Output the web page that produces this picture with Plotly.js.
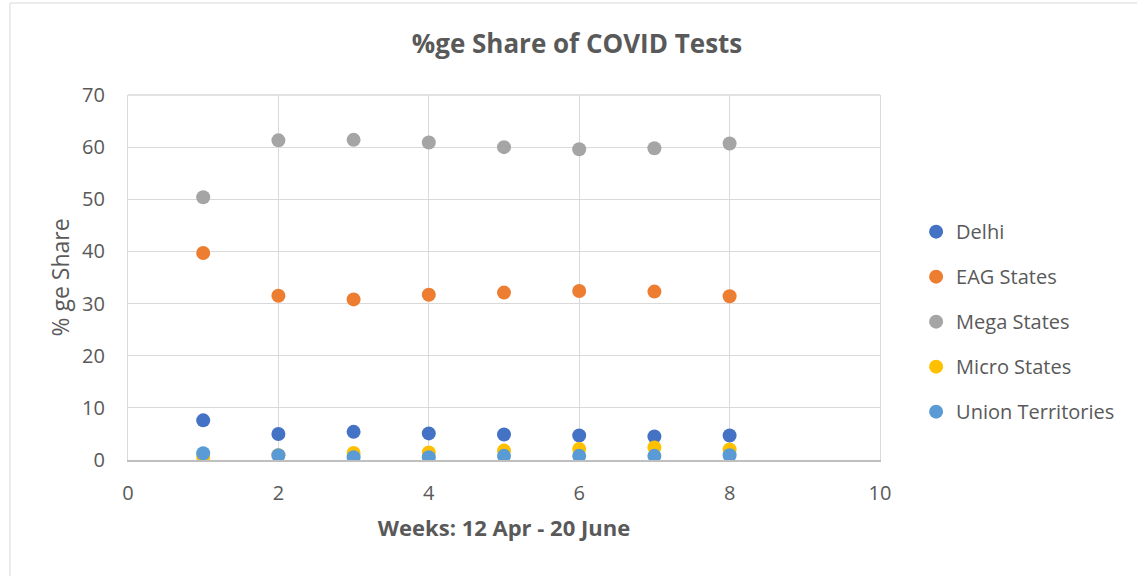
<!DOCTYPE html>
<html>
<head>
<meta charset="utf-8">
<script src="https://cdn.plot.ly/plotly-3.0.1.min.js"></script>
<style>html,body{margin:0;padding:0;background:#fff;}#chart{width:1137px;height:576px;}</style>
</head>
<body>
<div id="chart"></div>
<script>
const weeks = [1, 2, 3, 4, 5, 6, 7, 8];
const delhi = [7.6, 5.0, 5.4, 5.1, 4.9, 4.7, 4.5, 4.7];
const eagStates = [39.7, 31.5, 30.8, 31.7, 32.1, 32.4, 32.3, 31.4];
const megaStates = [50.4, 61.3, 61.4, 60.9, 60.0, 59.6, 59.8, 60.7];
const microStates = [0.6, 0.9, 1.35, 1.45, 1.8, 2.1, 2.4, 2.0];
const unionTerritories = [1.3, 0.9, 0.55, 0.55, 0.8, 0.8, 0.8, 0.9];
const seriesNames = ["Delhi", "EAG States", "Mega States", "Micro States", "Union Territories"];
const seriesValues = [delhi, eagStates, megaStates, microStates, unionTerritories];
const seriesColors = ["#4472C4", "#ED7D31", "#A5A5A5", "#FFC000", "#5B9BD5"];

const font = "'Open Sans', 'Liberation Sans', sans-serif";
const traces = seriesNames.map((n, i) => ({
  x: weeks, y: seriesValues[i], name: n, type: "scatter", mode: "markers",
  legendgroup: n,
  marker: {color: seriesColors[i], size: 14}
}));

const layout = {
  width: 1137, height: 576,
  margin: {l: 128, r: 257, t: 95, b: 116},
  paper_bgcolor: "#fff", plot_bgcolor: "#fff",
  title: {text: "<b>%ge Share of COVID Tests</b>", x: 0.5075, xref: "container", xanchor: "center",
    y: 0.9236, yref: "container", yanchor: "middle",
    font: {family: font, size: 26, color: "#595959"}},
  font: {family: font, color: "#595959"},
  xaxis: {range: [0, 10], dtick: 2, tick0: 0, showgrid: true, gridcolor: "#d9d9d9", gridwidth: 1.3,
    zeroline: false, showline: true, linecolor: "#bfbfbf", linewidth: 1.5, ticks: "",
    tickfont: {size: 20, color: "#595959"}, ticklabelstandoff: 14,
    title: {text: "<b>Weeks: 12 Apr - 20 June</b>", font: {size: 22, color: "#595959"}, standoff: 16}},
  yaxis: {range: [0, 70], dtick: 10, showgrid: true, gridcolor: "#d9d9d9", gridwidth: 1.3,
    zeroline: false, showline: true, mirror: true, linecolor: "#d9d9d9", linewidth: 1.3, ticks: "", ticklen: 0,
    tickfont: {size: 20, color: "#595959"}, ticklabelstandoff: 18,
    title: {text: "% ge Share", font: {size: 23, color: "#595959"}, standoff: 5}},
  legend: {x: 1.048, xanchor: "left", y: 0.379, yanchor: "middle", font: {size: 20, color: "#595959"},
    tracegroupgap: 16, itemwidth: 30, bgcolor: "rgba(0,0,0,0)"},
  shapes: [
    {type: "rect", xref: "paper", yref: "paper", x0: -0.157, x1: 1.8, y0: -0.5, y1: 1.252,
      line: {color: "#d9d9d9", width: 1}, fillcolor: "rgba(0,0,0,0)", layer: "below"},
    {type: "line", xref: "paper", yref: "paper", x0: 0, x1: 1, y0: 1, y1: 1,
      line: {color: "#d9d9d9", width: 1.3}, layer: "below"}
  ]
};
Plotly.newPlot("chart", traces, layout, {displayModeBar: false});
</script>
</body>
</html>
